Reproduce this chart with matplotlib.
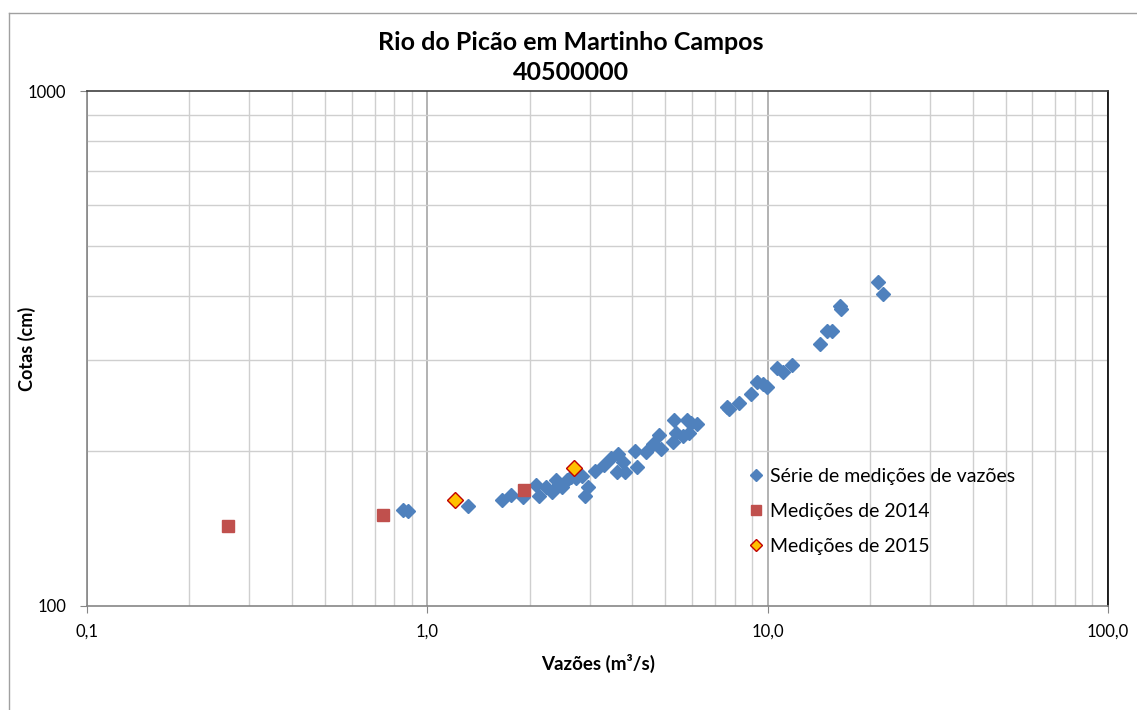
import matplotlib
matplotlib.use("Agg")
import matplotlib.pyplot as plt
from matplotlib.lines import Line2D
from matplotlib.ticker import FixedLocator, NullFormatter, FixedFormatter

plt.rcParams['font.family'] = ['Lato', 'DejaVu Sans']

# Série histórica de medições: vazão (m³/s) e cota (cm)
serie_vazao = [0.850, 0.880, 1.320, 1.661, 1.766, 1.915, 2.083, 2.134, 2.233, 2.330,
               2.386, 2.438, 2.488, 2.573, 2.635, 2.735, 2.849, 2.973, 2.903, 3.110,
               3.295, 3.455, 3.642, 3.747, 3.617, 3.811, 4.077, 4.133, 4.393, 4.590,
               4.807, 4.863, 5.272, 5.308, 5.381, 5.785, 5.943, 6.190, 5.653, 5.887,
               7.613, 7.700, 8.258, 8.920, 9.327, 9.694, 9.959, 10.63, 11.08, 11.82,
               14.26, 14.92, 15.50, 16.32, 16.43, 21.15, 21.88]
serie_cota = [153.6, 152.9, 156.4, 160.3, 163.9, 163.0, 172.0, 163.7, 170.0, 166.6,
              175.7, 172.6, 170.0, 175.7, 178.3, 177.3, 178.9, 170.0, 163.6, 182.9,
              187.8, 193.6, 196.9, 190.6, 182.3, 182.0, 200.4, 186.4, 199.1, 206.4,
              214.8, 202.2, 208.2, 229.2, 216.4, 229.7, 226.9, 225.6, 213.8, 217.0,
              243.8, 241.0, 248.3, 258.0, 272.3, 269.9, 266.3, 289.4, 285.1, 293.8,
              322.3, 342.0, 342.0, 382.4, 376.8, 426.4, 403.5]

# Medições de 2014
vazao_2014 = [0.260, 0.741, 1.924]
cota_2014 = [143.0, 150.2, 168.0]

# Medições de 2015
vazao_2015 = [1.206, 2.698]
cota_2015 = [160.6, 185.3]

x_ticks = [0.1, 1.0, 10.0, 100.0]
x_tick_labels = ["0,1", "1,0", "10,0", "100,0"]
y_ticks = [100, 1000]
y_tick_labels = ["100", "1000"]

W, H = 1137, 710
fig = plt.figure(figsize=(W / 100, H / 100), dpi=100)
ax = fig.add_axes([87 / W, 1 - 606 / H, (1108 - 87) / W, (606 - 91) / H])

ax.set_xscale('log')
ax.set_yscale('log')
ax.set_xlim(0.1, 100)
ax.set_ylim(100, 1000)

# grade
minor_x = [m * d for d in (0.1, 1, 10) for m in range(2, 10)]
minor_y = [m * 100 for m in range(2, 10)]
ax.xaxis.set_major_locator(FixedLocator(x_ticks))
ax.xaxis.set_major_formatter(FixedFormatter(x_tick_labels))
ax.xaxis.set_minor_locator(FixedLocator(minor_x))
ax.xaxis.set_minor_formatter(NullFormatter())
ax.yaxis.set_major_locator(FixedLocator(y_ticks))
ax.yaxis.set_major_formatter(FixedFormatter(y_tick_labels))
ax.yaxis.set_minor_locator(FixedLocator(minor_y))
ax.yaxis.set_minor_formatter(NullFormatter())

ax.grid(which='minor', axis='both', color='#cfcfcf', linewidth=1.0)
ax.grid(which='major', axis='x', color='#a6a6a6', linewidth=1.2)
ax.set_axisbelow(True)

ax.tick_params(which='minor', length=0)
ax.tick_params(which='major', length=5, color='#868686', labelsize=12,
               labelcolor='black', direction='out')
ax.tick_params(axis='x', which='major', pad=8)
ax.tick_params(axis='y', which='major', pad=10)

for side in ('left', 'bottom'):
    ax.spines[side].set_color('#868686')
    ax.spines[side].set_linewidth(1.2)
ax.spines['top'].set_color('#404040')
ax.spines['top'].set_linewidth(1.2)
ax.spines['right'].set_color('black')
ax.spines['right'].set_linewidth(1.2)

ax.plot(serie_vazao, serie_cota, linestyle='none', marker='D', markersize=7.5,
        color='#4F81BD', markeredgecolor='#4F81BD', label='Série de medições de vazões',
        zorder=3)
ax.plot(vazao_2014, cota_2014, linestyle='none', marker='s', markersize=9,
        color='#C0504D', markeredgecolor='#C0504D', label='Medições de 2014', zorder=4)
ax.plot(vazao_2015, cota_2015, linestyle='none', marker='D', markersize=8,
        color='#FFC000', markeredgecolor='#C00000', markeredgewidth=1.0,
        label='Medições de 2015', zorder=5)

ax.set_xlabel('Vazões (m³/s)', fontsize=13.5, fontweight='bold')
ax.xaxis.set_label_coords(598 / W, 1 - 663 / H, transform=fig.transFigure)
ax.xaxis.label.set_va('center')
ax.set_ylabel('Cotas (cm)', fontsize=13, fontweight='bold')
ax.yaxis.set_label_coords(27 / W, 1 - 349 / H, transform=fig.transFigure)
ax.yaxis.label.set_va('center')

fig.text(571 / W, 1 - 43 / H, 'Rio do Picão em Martinho Campos', ha='center',
         va='center', fontsize=18, fontweight='bold')
fig.text(571 / W, 1 - 73 / H, '40500000', ha='center', va='center',
         fontsize=18, fontweight='bold')

leg = ax.legend(loc='upper left', bbox_to_anchor=(749 / W, 1 - 468 / H),
                bbox_transform=fig.transFigure, frameon=False, fontsize=14,
                handlelength=0.7, handletextpad=0.4, labelspacing=0.93,
                borderpad=0, borderaxespad=0, markerscale=0.8)

# moldura do gráfico
fig.add_artist(Line2D([8.5 / W, 8.5 / W], [0, 1 - 12.5 / H], color='#a0a0a0',
                      linewidth=1.0, transform=fig.transFigure))
fig.add_artist(Line2D([8.5 / W, 1], [1 - 12.5 / H, 1 - 12.5 / H], color='#a0a0a0',
                      linewidth=1.0, transform=fig.transFigure))

fig.savefig('out.png', dpi=100)
